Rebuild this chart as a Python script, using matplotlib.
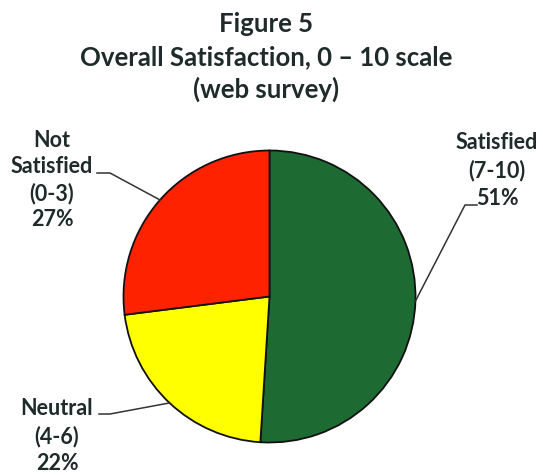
import numpy as np
import matplotlib.pyplot as plt

plt.rcParams['font.family'] = ['Lato', 'DejaVu Sans']

# dados do grafico (pesquisa web, escala 0-10)
categorias = ['Satisfied', 'Neutral', 'Not\nSatisfied']
faixas = ['(7-10)', '(4-6)', '(0-3)']
percentuais = [51, 22, 27]
cores = ['#1d6b33', '#ffff00', '#ff2200']

titulo = ['Figure 5', 'Overall Satisfaction, 0 \u2013 10 scale', '(web survey)']

W, H = 543, 475
cor_texto = '#1f2a2a'

fig = plt.figure(figsize=(W / 100, H / 100), dpi=100)

# centro e raio da pizza em pixels
cx, cy, r = 269.5, 296.5, 146
ax = fig.add_axes([(cx - r) / W, (H - cy - r) / H, 2 * r / W, 2 * r / H])
ax.pie(percentuais, colors=cores, startangle=90, counterclock=False,
       wedgeprops=dict(edgecolor='#111111', linewidth=1.3))
ax.set_xlim(-1, 1)
ax.set_ylim(-1, 1)
ax.axis('off')


def px(x, y):
    # pixel (topo-esquerda) -> coordenadas de dados
    return (x - cx) / r, (cy - y) / r


# titulo
for linha, y in zip(titulo, [32, 65, 98]):
    fig.text(266 / W, 1 - y / H, linha, ha='center', va='baseline',
             fontsize=18.5, fontweight='bold', color=cor_texto)

# posicoes dos rotulos: centro x, baseline das linhas, joelho e fim da linha guia
layout = [
    dict(x=497, ys=[149, 177, 205], knee=(465, 205), end=(477, 205)),
    dict(x=57, ys=[415, 443, 470], knee=(110, 414), end=(99, 414)),
    dict(x=52, ys=[147, 173, 200, 226], knee=(110, 173), end=(97, 173)),
]

acum = np.cumsum([0] + percentuais[:-1])
for cat, fx, p, a, lay in zip(categorias, faixas, percentuais, acum, layout):
    ang = np.deg2rad(90 - 360 * (a + p / 2) / 100)
    x0, y0 = np.cos(ang), np.sin(ang)
    xk, yk = px(*lay['knee'])
    xe, ye = px(*lay['end'])
    ax.plot([x0, xk, xe], [y0, yk, ye], color='#333333', lw=1.1, clip_on=False)
    linhas = cat.split('\n') + [fx, f'{p}%']
    for linha, y in zip(linhas, lay['ys']):
        fig.text(lay['x'] / W, 1 - y / H, linha, ha='center', va='baseline',
                 fontsize=15.5, fontweight='bold', color=cor_texto)

fig.savefig('out.png', dpi=100, facecolor='white')
